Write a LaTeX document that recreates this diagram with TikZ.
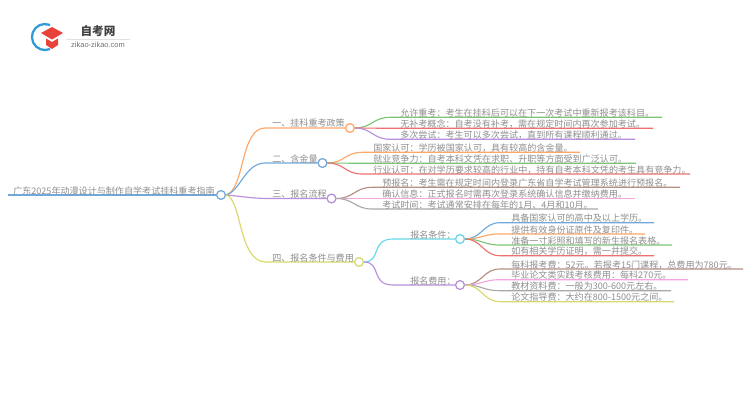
\documentclass[tikz,border=0pt]{standalone}
\usepackage{fontspec}
\setmainfont{Noto Sans CJK SC}
\newfontfamily\latinf{Liberation Sans}
\definecolor{cO}{HTML}{FFA766}
\definecolor{cB}{HTML}{6FA8DC}
\definecolor{cP}{HTML}{B78FDC}
\definecolor{cY}{HTML}{D9D86A}
\definecolor{cG}{HTML}{7CC576}
\definecolor{cR}{HTML}{F07070}
\definecolor{cBr}{HTML}{B58E86}
\definecolor{cK}{HTML}{F2A6E0}
\definecolor{cA}{HTML}{A8A8A8}
\definecolor{cC}{HTML}{66D8EA}
\definecolor{txt}{HTML}{8F8F8F}
\definecolor{logoB}{HTML}{2E9BD6}
\definecolor{logoR}{HTML}{E8423A}
\tikzset{
 x=0.75pt,y=-0.75pt,
 lab/.style={font=\fontsize{6.8pt}{7pt}\selectfont,text=txt,inner sep=0pt,anchor=base west,yshift=-0.75pt},
 hub/.style={circle,draw=#1,fill=white,line width=0.85pt,minimum size=6.5pt,inner sep=0pt},
 lnk/.style={draw=#1,line width=0.85pt},
}
\begin{document}
\begin{tikzpicture}
\useasboundingbox (0,0) rectangle (750,410);
\fill[fill=white] (0,0) rectangle (750,410);
% logo
\draw[logoB,line width=1.7pt,line cap=round] (49.4,24.8) arc[start angle=70,end angle=290,radius=9.75pt];
\fill[logoR] (41,33) -- (52,27) -- (63,33) -- (52,39.5) -- cycle;
\fill[logoR] (46,38.5) -- (52,42) -- (58,38.5) -- (58,45) -- (52,49) -- (46,45) -- cycle;
\node[font=\bfseries\fontsize{8.7pt}{9pt}\selectfont,text=black!75,inner sep=0pt] (logot) at (98,31) {自考网};
\draw[black!12,line width=0.4pt] (66,39.3) -- (130,39.3);
\node[font=\latinf\fontsize{5.6pt}{6pt}\selectfont,text=black!55,inner sep=0pt] (logou) at (98,45) {zikao-zikao.com};
% hubs
\node[hub=cB] (root) at (221,195) {};
\node[hub=cO] (b1) at (350,128) {};
\node[hub=cB] (b2) at (322.5,163) {};
\node[hub=cP] (b3) at (331.5,198.5) {};
\node[hub=cY] (b4) at (359,262) {};
\node[hub=cC] (s1) at (460,239) {};
\node[hub=cP] (s2) at (460,285) {};
% free ends
\coordinate (r0) at (8,195);
\foreach \n/\x/\y in {
  l11/390/117.3,l12/390/128.3,l13/390/139.3,
  l21/362/152.3,l22/362/163.3,l23/362/174,
  l31/372/187.3,l32/372/198.5,l33/372/209,
  m11/500/222.7,m12/500/234,m13/500/245,m14/500/255.7,
  m21/500/269,m22/500/279.7,m23/500/290.7,m24/500/301.7}{\coordinate (\n) at (\x,\y);}
\foreach \n/\x/\y in {e11/662/117.3,e12/653/128.3,e13/635/139.3,
  e21/580/152.3,e22/636/163.3,e23/690/174,
  e31/680/187.3,e32/635/198.5,e33/598/209,
  f11/654/222.7,f12/645/234,f13/672/245,f14/654/255.7,
  f21/743/269,f22/688/279.7,f23/671/290.7,f24/674/301.7}{\coordinate (\n) at (\x,\y);}
\draw[lnk=cB] (r0) -- (root.west);
% main branches
\draw[lnk=cO] (root.east) .. controls (245,190) and (240,128) .. (265,128) -- (b1.west);
\draw[lnk=cB] (root.east) .. controls (240,192) and (245,163) .. (265,163) -- (b2.west);
\draw[lnk=cP] (root.east) .. controls (240,196) and (250,198.5) .. (270,198.5) -- (b3.west);
\draw[lnk=cY] (root.east) .. controls (242,198) and (238,262) .. (266,262) -- (b4.west);
% leaves
\foreach \h/\c/\s/\e in {b1/cG/l11/e11,b1/cR/l12/e12,b1/cP/l13/e13,
  b2/cO/l21/e21,b2/cG/l22/e22,b2/cR/l23/e23,
  b3/cBr/l31/e31,b3/cK/l32/e32,b3/cA/l33/e33,
  s1/cB/m11/f11,s1/cO/m12/f12,s1/cG/m13/f13,s1/cR/m14/f14,
  s2/cBr/m21/f21,s2/cK/m22/f22,s2/cA/m23/f23,s2/cY/m24/f24}{
  \draw[lnk=\c] (\h.east) .. controls ([xshift=12.75pt]\h.east) and ([xshift=-12.75pt]\s) .. (\s) -- (\e);
}
\draw[lnk=cC] (b4.east) .. controls (382,262) and (370,239) .. (393,239) -- (s1.west);
\draw[lnk=cP] (b4.east) .. controls (382,262) and (370,285) .. (393,285) -- (s2.west);
% hubs on top
\foreach \h/\c in {root/cB,b1/cO,b2/cB,b3/cP,b4/cY,s1/cC,s2/cP}{\node[hub=\c] at (\h) {};}
% labels
\node[lab] (troot) at (13,193) {广东2025年动漫设计与制作自学考试挂科重考指南};
\node[lab] (t1) at (272,126) {一、挂科重考政策};
\node[lab] (t2) at (272,161) {二、含金量};
\node[lab] (t3) at (272,196.5) {三、报名流程};
\node[lab] (t4) at (272,260) {四、报名条件与费用};
\node[lab] (ts1) at (410,237) {报名条件：};
\node[lab] (ts2) at (410,283) {报名费用：};
\node[lab] at (400,115.3) {允许重考：考生在挂科后可以在下一次考试中重新报考该科目。};
\node[lab] at (400,126.3) {无补考概念：自考没有补考，需在规定时间内再次参加考试。};
\node[lab] at (400,137.3) {多次尝试：考生可以多次尝试，直到所有课程顺利通过。};
\node[lab] at (373,150.3) {国家认可：学历被国家认可，具有较高的含金量。};
\node[lab] at (373,161.3) {就业竞争力：自考本科文凭在求职、升职等方面受到广泛认可。};
\node[lab] at (373,172) {行业认可：在对学历要求较高的行业中，持有自考本科文凭的考生具有竞争力。};
\node[lab] at (382,185.3) {预报名：考生需在规定时间内登录广东省自学考试管理系统进行预报名。};
\node[lab] at (382,196.5) {确认信息：正式报名时需再次登录系统确认信息并缴纳费用。};
\node[lab] at (382,207) {考试时间：考试通常安排在每年的1月、4月和10月。};
\node[lab] at (511,220.7) {具备国家认可的高中及以上学历。};
\node[lab] at (511,232) {提供有效身份证原件及复印件。};
\node[lab] at (511,243) {准备一寸彩照和填写的新生报名表格。};
\node[lab] at (511,253.7) {如有相关学历证明，需一并提交。};
\node[lab] at (511,267) {每科报考费：52元。若报考15门课程，总费用为780元。};
\node[lab] at (511,277.7) {毕业论文类实践考核费用：每科270元。};
\node[lab] at (511,288.7) {教材资料费：一般为300-600元左右。};
\node[lab] at (511,299.7) {论文指导费：大约在800-1500元之间。};
\end{tikzpicture}
\end{document}
